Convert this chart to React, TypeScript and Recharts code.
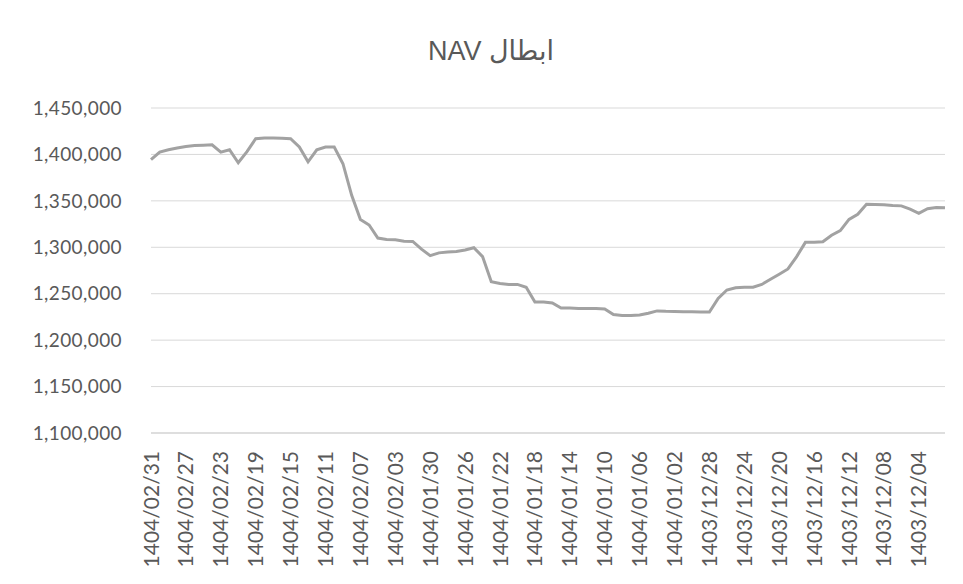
import React from 'react';
import { LineChart, Line, XAxis, YAxis, CartesianGrid } from 'recharts';

const dates = [
  '1404/02/31', '1404/02/30', '1404/02/29', '1404/02/28', '1404/02/27', '1404/02/26', '1404/02/25', '1404/02/24',
  '1404/02/23', '1404/02/22', '1404/02/21', '1404/02/20', '1404/02/19', '1404/02/18', '1404/02/17', '1404/02/16',
  '1404/02/15', '1404/02/14', '1404/02/13', '1404/02/12', '1404/02/11', '1404/02/10', '1404/02/09', '1404/02/08',
  '1404/02/07', '1404/02/06', '1404/02/05', '1404/02/04', '1404/02/03', '1404/02/02', '1404/02/01',
  '1404/01/31', '1404/01/30', '1404/01/29', '1404/01/28', '1404/01/27', '1404/01/26', '1404/01/25', '1404/01/24',
  '1404/01/23', '1404/01/22', '1404/01/21', '1404/01/20', '1404/01/19', '1404/01/18', '1404/01/17', '1404/01/16',
  '1404/01/15', '1404/01/14', '1404/01/13', '1404/01/12', '1404/01/11', '1404/01/10', '1404/01/09', '1404/01/08',
  '1404/01/07', '1404/01/06', '1404/01/05', '1404/01/04', '1404/01/03', '1404/01/02', '1404/01/01',
  '1403/12/30', '1403/12/29', '1403/12/28', '1403/12/27', '1403/12/26', '1403/12/25', '1403/12/24', '1403/12/23',
  '1403/12/22', '1403/12/21', '1403/12/20', '1403/12/19', '1403/12/18', '1403/12/17', '1403/12/16', '1403/12/15',
  '1403/12/14', '1403/12/13', '1403/12/12', '1403/12/11', '1403/12/10', '1403/12/09', '1403/12/08', '1403/12/07',
  '1403/12/06', '1403/12/05', '1403/12/04', '1403/12/03', '1403/12/02', '1403/12/01',
];

// NAV (redemption)
const navValues = [
  1394300, 1402500, 1405000, 1407000, 1408500, 1409700, 1410000, 1410400,
  1402500, 1405000, 1391000, 1403000, 1417000, 1417800, 1417800, 1417500,
  1417000, 1408000, 1392000, 1405000, 1408000, 1408000, 1390000, 1356000,
  1330000, 1324000, 1310000, 1308500, 1308000, 1306500, 1306300,
  1298000, 1291000, 1294000, 1295000, 1295500, 1297000, 1299500, 1290000,
  1263000, 1261000, 1260000, 1260000, 1257000, 1241000, 1241000, 1240000,
  1234500, 1234500, 1234000, 1234000, 1234000, 1233500, 1227500, 1226600,
  1226500, 1227000, 1229000, 1231500, 1231000, 1230800, 1230500,
  1230500, 1230300, 1230200, 1245000, 1254000, 1256500, 1257000, 1257000,
  1260000, 1265500, 1271000, 1276700, 1290000, 1305300, 1305300, 1306000,
  1313000, 1318000, 1330000, 1335500, 1346400, 1346000, 1345800, 1345000,
  1344600, 1341000, 1336500, 1341500, 1342800, 1342500,
];

const yTicks = [1100000, 1150000, 1200000, 1250000, 1300000, 1350000, 1400000, 1450000];

const data = dates.map((d, i) => ({ date: d, nav: navValues[i] }));

const fmt = (v: number) => v.toLocaleString('en-US');

const DateTick = (props: any) => {
  const { x, y, payload } = props;
  return (
    <g transform={`translate(${x},${y})`}>
      <text
        transform="rotate(-90)"
        textAnchor="end"
        dy="0.36em"
        fill="#595959"
        fontSize={21}
        fontFamily="Lato, 'Open Sans', sans-serif"
      >
        {payload.value}
      </text>
    </g>
  );
};

export default function App() {
  return (
    <div style={{ position: 'absolute', left: 0, top: 0, width: 963, height: 584, background: '#fff' }}>
      <div
        dir="rtl"
        style={{
          position: 'absolute',
          left: 0,
          width: 982,
          top: 35,
          textAlign: 'center',
          fontFamily: "'Liberation Sans', 'DejaVu Sans', sans-serif",
          fontSize: 27,
          color: '#595959',
        }}
      >
        ابطال NAV
      </div>
      <LineChart
        width={963}
        height={584}
        data={data}
        margin={{ top: 108, right: 18, bottom: 0, left: 0 }}
      >
        <CartesianGrid vertical={false} stroke="#d9d9d9" />
        <XAxis
          dataKey="date"
          interval={3}
          tick={<DateTick />}
          tickLine={false}
          tickMargin={12}
          axisLine={{ stroke: '#d0d0d0' }}
          height={151}
        />
        <YAxis
          domain={[1100000, 1450000]}
          ticks={yTicks}
          interval={0}
          tickFormatter={fmt}
          width={151}
          tickSize={0}
          tickMargin={29}
          axisLine={false}
          tickLine={false}
          tick={{ fill: '#595959', fontSize: 19, letterSpacing: 0.4, fontFamily: "Lato, 'Open Sans', sans-serif" }}
        />
        <Line
          type="linear"
          dataKey="nav"
          stroke="#a2a2a2"
          strokeWidth={3}
          dot={false}
          isAnimationActive={false}
        />
      </LineChart>
    </div>
  );
}
